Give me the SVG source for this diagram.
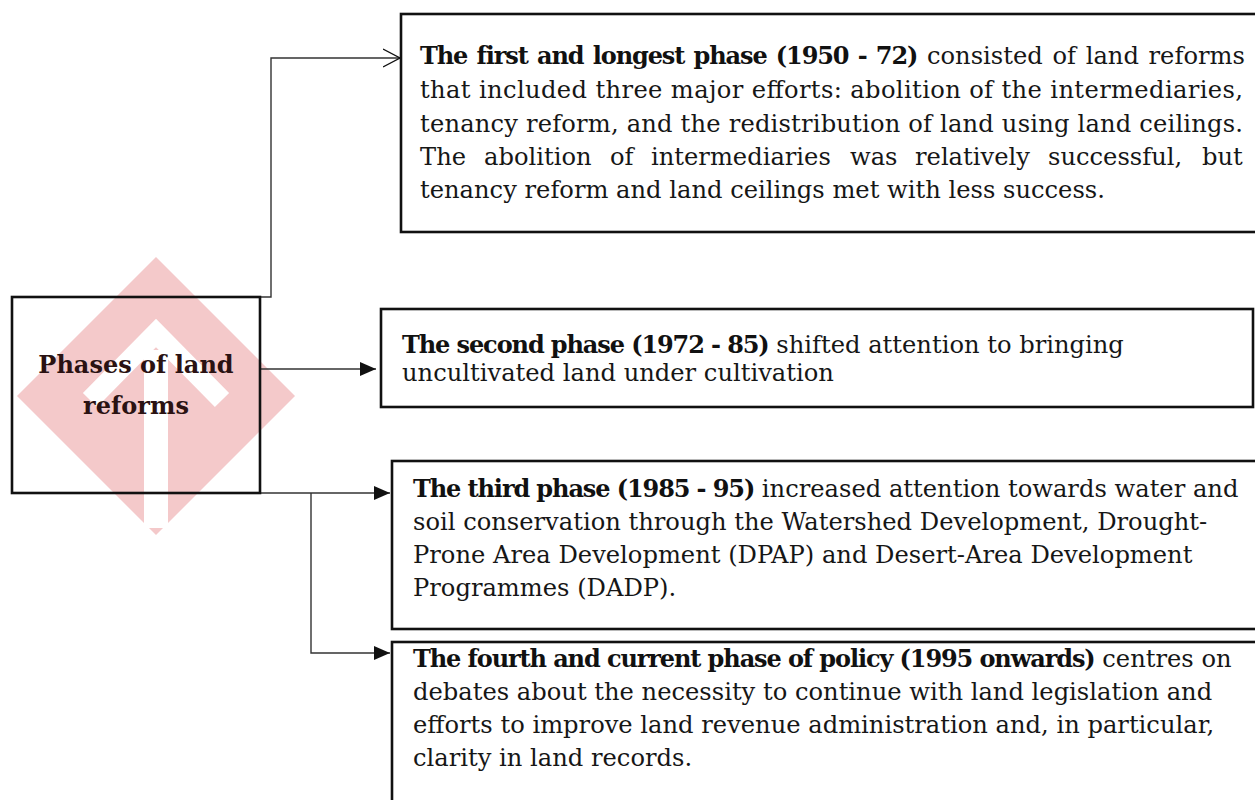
<svg xmlns="http://www.w3.org/2000/svg" width="1255" height="800" viewBox="0 0 1255 800">
<defs>
<style>
.box{fill:none;stroke:#111;stroke-width:2.6}
.t{font-family:"DejaVu Serif","Liberation Serif",serif;font-size:24.2px;fill:#161616}
.b{font-family:"DejaVu Serif","Liberation Serif",serif;font-size:24px;font-weight:bold;letter-spacing:-1.1px;fill:#111}
.r{font-weight:normal;letter-spacing:0;font-size:24.2px;fill:#161616}
.hub{font-family:"DejaVu Serif","Liberation Serif",serif;font-size:24px;font-weight:bold;fill:#2a1212;text-anchor:middle}
.conn{fill:none;stroke:#333;stroke-width:1.4}
</style>
<marker id="tri" viewBox="0 0 16 14" refX="16" refY="7" markerWidth="16" markerHeight="14" markerUnits="userSpaceOnUse" orient="auto">
<path d="M0,0 L16,7 L0,14 Z" fill="#111"/>
</marker>
<marker id="open" viewBox="0 0 18 20" refX="17" refY="10" markerWidth="18" markerHeight="20" markerUnits="userSpaceOnUse" orient="auto">
<path d="M0,1 L17,10 L0,19" fill="none" stroke="#111" stroke-width="1.4"/>
</marker>
</defs>
<rect width="1255" height="800" fill="#fff"/>
<g id="watermark" opacity="0.85">
<polygon points="156,257 295,396 156,535 17,396" fill="#f3c0c1"/>
<polyline points="90,400 156,333 222,400" fill="none" stroke="#fff" stroke-width="20"/>
<rect x="144" y="350" width="24" height="178" fill="#fff"/>
</g>
<g id="connectors">
<path class="conn" d="M260,297 H271 V58 H400" marker-end="url(#open)"/>
<path class="conn" d="M260,369 H376" marker-end="url(#tri)"/>
<path class="conn" d="M260,493 H390" marker-end="url(#tri)"/>
<path class="conn" d="M311,493 V653 H390" marker-end="url(#tri)"/>
</g>
<g id="hub">
<rect class="box" x="12" y="297" width="248" height="196"/>
<text class="hub" x="136" y="373">Phases of land</text>
<text class="hub" x="136" y="414">reforms</text>
</g>
<g id="phase1">
<rect class="box" x="401" y="14" width="880" height="218"/>
<text class="b" x="420" y="64" word-spacing="2">The first and longest phase (1950 - 72)<tspan class="r"> consisted of land reforms</tspan></text>
<text class="t" x="420" y="98" textLength="823" lengthAdjust="spacing">that included three major efforts: abolition of the intermediaries,</text>
<text class="t" x="420" y="132" textLength="823" lengthAdjust="spacing">tenancy reform, and the redistribution of land using land ceilings.</text>
<text class="t" y="165"><tspan x="420">The</tspan><tspan x="484">abolition</tspan><tspan x="610">of</tspan><tspan x="651">intermediaries</tspan><tspan x="850">was</tspan><tspan x="915">relatively</tspan><tspan x="1048">successful,</tspan><tspan x="1202">but</tspan></text>
<text class="t" x="420" y="198">tenancy reform and land ceilings met with less success.</text>
</g>
<g id="phase2">
<rect class="box" x="381" y="309" width="872" height="98"/>
<text class="b" x="402" y="353">The second phase (1972 - 85)<tspan class="r"> shifted attention to bringing</tspan></text>
<text class="t" x="402" y="381">uncultivated land under cultivation</text>
</g>
<g id="phase3">
<rect class="box" x="392" y="461" width="880" height="168"/>
<text class="b" x="413" y="497">The third phase (1985 - 95)<tspan class="r"> increased attention towards water and</tspan></text>
<text class="t" x="413" y="530">soil conservation through the Watershed Development, Drought-</text>
<text class="t" x="413" y="563">Prone Area Development (DPAP) and Desert-Area Development</text>
<text class="t" x="413" y="596">Programmes (DADP).</text>
</g>
<g id="phase4">
<rect class="box" x="392" y="642" width="880" height="200"/>
<text class="b" x="413" y="667">The fourth and current phase of policy (1995 onwards)<tspan class="r"> centres on</tspan></text>
<text class="t" x="413" y="700">debates about the necessity to continue with land legislation and</text>
<text class="t" x="413" y="733">efforts to improve land revenue administration and, in particular,</text>
<text class="t" x="413" y="766">clarity in land records.</text>
</g>
</svg>
